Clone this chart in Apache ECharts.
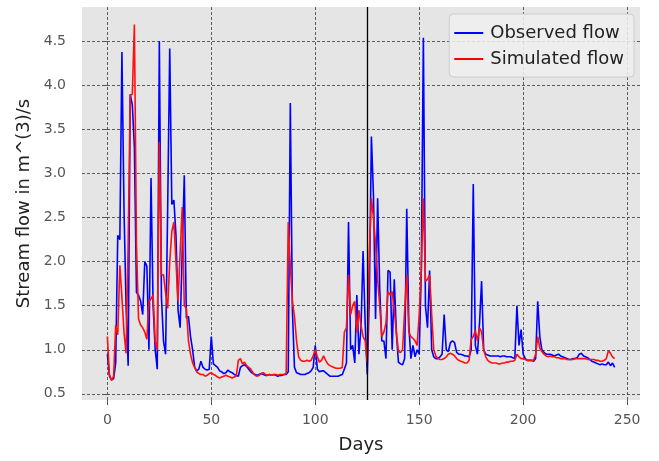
<!DOCTYPE html>
<html>
<head>
<meta charset="utf-8">
<script src="https://cdn.jsdelivr.net/npm/echarts@6/dist/echarts.min.js"></script>
<style>
	html, body { margin: 0; padding: 0; background: #fff; }
	#flow_chart { width: 659px; height: 461px; }
</style>
</head>
<body>
<div id="flow_chart"></div>
<script>
// observed / simulated stream flow, one value per day (day = index)
const observed = [
	0.95, 0.70, 0.66, 0.67, 0.85, 2.30, 2.25, 4.38, 2.60, 1.50,
	0.82, 3.90, 3.78, 3.30, 1.65, 1.62, 1.55, 1.40, 2.00, 1.95,
	1.00, 2.95, 1.50, 1.00, 0.78, 4.50, 1.60, 1.10, 0.95, 2.60,
	4.42, 2.65, 2.70, 2.30, 1.45, 1.25, 2.10, 2.98, 1.36, 1.38,
	1.15, 1.00, 0.80, 0.76, 0.78, 0.87, 0.80, 0.78, 0.77, 0.78,
	1.15, 0.84, 0.82, 0.80, 0.76, 0.75, 0.73, 0.74, 0.77, 0.75,
	0.74, 0.72, 0.71, 0.70, 0.80, 0.82, 0.83, 0.81, 0.78, 0.75,
	0.73, 0.72, 0.71, 0.72, 0.73, 0.72, 0.71, 0.71, 0.72, 0.71,
	0.72, 0.71, 0.70, 0.71, 0.71, 0.72, 0.72, 0.75, 3.80, 1.45,
	0.80, 0.74, 0.73, 0.72, 0.72, 0.72, 0.73, 0.74, 0.76, 0.80,
	1.05, 0.78, 0.75, 0.76, 0.76, 0.74, 0.72, 0.70, 0.70, 0.70,
	0.70, 0.70, 0.71, 0.72, 0.78, 0.85, 2.45, 1.00, 1.05, 0.85,
	1.62, 0.95, 1.25, 2.12, 1.30, 0.72, 1.60, 3.42, 2.75, 1.35,
	2.72, 1.70, 1.10, 1.10, 0.90, 1.90, 1.88, 1.00, 1.80, 1.20,
	0.86, 0.84, 0.83, 0.90, 2.60, 1.28, 0.90, 1.05, 0.92, 1.00,
	0.95, 1.90, 4.54, 1.50, 1.25, 1.90, 1.00, 0.92, 0.90, 0.90,
	0.92, 0.95, 1.40, 1.00, 0.98, 1.08, 1.10, 1.08, 0.97, 0.95,
	0.95, 0.94, 0.93, 0.93, 0.92, 1.00, 2.88, 1.05, 0.95, 1.30,
	1.78, 1.00, 0.95, 0.94, 0.93, 0.93, 0.93, 0.93, 0.93, 0.92,
	0.93, 0.93, 0.92, 0.92, 0.92, 0.91, 0.90, 1.50, 1.05, 1.23,
	0.95, 0.90, 0.88, 0.88, 0.88, 0.87, 0.90, 1.55, 1.15, 1.00,
	0.97, 0.95, 0.95, 0.95, 0.94, 0.93, 0.94, 0.95, 0.93, 0.92,
	0.91, 0.90, 0.89, 0.89, 0.90, 0.90, 0.91, 0.95, 0.96, 0.93,
	0.92, 0.91, 0.89, 0.87, 0.86, 0.85, 0.84, 0.83, 0.84, 0.83,
	0.83, 0.86, 0.82, 0.85, 0.80
];

const simulated = [
	1.15, 0.72, 0.65, 0.70, 1.28, 1.17, 1.96, 1.60, 1.20, 0.96,
	2.20, 3.89, 3.90, 4.69, 2.20, 1.35, 1.28, 1.25, 1.20, 1.12,
	1.55, 1.58, 1.62, 1.10, 1.00, 3.36, 1.85, 1.85, 1.65, 1.47,
	2.00, 2.34, 2.45, 2.00, 1.55, 2.10, 2.62, 1.50, 1.47, 1.10,
	0.95, 0.85, 0.80, 0.75, 0.73, 0.72, 0.72, 0.70, 0.71, 0.73,
	0.74, 0.72, 0.71, 0.69, 0.68, 0.69, 0.70, 0.71, 0.70, 0.69,
	0.68, 0.69, 0.70, 0.88, 0.90, 0.84, 0.86, 0.82, 0.80, 0.78,
	0.74, 0.71, 0.70, 0.71, 0.73, 0.74, 0.72, 0.71, 0.72, 0.71,
	0.72, 0.72, 0.71, 0.72, 0.72, 0.72, 0.73, 2.45, 1.95, 1.55,
	1.38, 1.10, 0.92, 0.88, 0.87, 0.87, 0.88, 0.87, 0.88, 0.93,
	1.00, 0.92, 0.86, 0.88, 0.93, 0.88, 0.84, 0.82, 0.81, 0.80,
	0.79, 0.79, 0.79, 0.80, 1.20, 1.25, 1.85, 1.40, 1.50, 1.55,
	1.20, 1.45, 1.28, 1.15, 1.10, 0.85, 2.10, 2.72, 2.50, 2.20,
	1.80, 1.50, 1.15, 1.20, 1.30, 1.66, 1.62, 1.66, 1.45, 1.20,
	0.98, 0.97, 1.00, 1.45, 1.85, 1.20, 1.15, 1.13, 1.10, 1.05,
	1.40, 1.90, 2.72, 1.78, 1.80, 1.85, 1.40, 1.00, 0.93, 0.90,
	0.89, 0.89, 0.90, 0.92, 0.95, 0.96, 0.95, 0.93, 0.90, 0.88,
	0.87, 0.86, 0.85, 0.85, 0.88, 1.12, 1.15, 1.22, 1.10, 1.25,
	1.20, 1.00, 0.92, 0.88, 0.86, 0.85, 0.85, 0.85, 0.84, 0.84,
	0.85, 0.85, 0.86, 0.86, 0.87, 0.87, 0.88, 0.95, 0.92, 0.90,
	0.90, 0.89, 0.88, 0.88, 0.88, 0.88, 0.95, 1.15, 1.02, 0.98,
	0.95, 0.93, 0.92, 0.93, 0.92, 0.92, 0.91, 0.91, 0.90, 0.90,
	0.90, 0.89, 0.89, 0.89, 0.89, 0.90, 0.90, 0.90, 0.90, 0.90,
	0.90, 0.89, 0.89, 0.89, 0.89, 0.88, 0.88, 0.87, 0.87, 0.88,
	0.90, 0.99, 0.96, 0.92, 0.90
];

const xTicks = [0, 50, 100, 150, 200, 250];
const yTicks = [0.5, 1.0, 1.5, 2.0, 2.5, 3.0, 3.5, 4.0, 4.5];
const splitDay = 125;

const chartDom = document.getElementById('flow_chart');
const myChart = echarts.init(chartDom);

const font = 'DejaVu Sans';
const tickColor = '#555555';
const gridLine = {color: '#3a3a3a', type: [3, 2], width: 0.8};

let option = {
	animation: false,
	textStyle: {fontFamily: font},
	grid: {
		left: 82, right: 19, top: 7, bottom: 61,
		show: true, backgroundColor: '#e5e5e5', borderWidth: 0,
		outerBoundsMode: 'none'
	},
	legend: {
		orient: 'vertical',
		right: 25,
		top: 14,
		icon: 'rect',
		itemWidth: 29,
		itemHeight: 2,
		itemGap: 8,
		padding: [10, 10, 9, 5],
		backgroundColor: 'rgba(240,240,240,0.85)',
		borderColor: '#cccccc',
		borderWidth: 1,
		borderRadius: 4,
		textStyle: {fontFamily: font, fontSize: 18, color: '#222', padding: [0, 0, 0, 2]},
		data: ['Observed flow', 'Simulated flow']
	},
	xAxis: {
		type: 'value',
		min: -12.2,
		max: 256.2,
		name: 'Days',
		nameLocation: 'middle',
		nameGap: 36,
		nameTextStyle: {fontFamily: font, fontSize: 18, color: '#222'},
		axisLine: {show: false},
		axisTick: {show: true, customValues: xTicks, length: 5, lineStyle: {color: tickColor}},
		axisLabel: {customValues: xTicks, color: tickColor, fontSize: 14, margin: 13},
		splitLine: {show: true, lineStyle: gridLine}
	},
	yAxis: {
		type: 'value',
		min: 0.43,
		max: 4.89,
		name: 'Stream flow in m^(3)/s',
		nameLocation: 'middle',
		nameGap: 48,
		nameTextStyle: {fontFamily: font, fontSize: 18, color: '#222'},
		axisLine: {show: false},
		axisTick: {show: true, customValues: yTicks, length: 5, lineStyle: {color: tickColor}},
		axisLabel: {
			customValues: yTicks, color: tickColor, fontSize: 14, margin: 16, align: 'right',
			formatter: v => v.toFixed(1)
		},
		splitLine: {show: true, lineStyle: gridLine}
	},
	series: [
		{
			name: 'Observed flow',
			type: 'line',
			symbol: 'none',
			color: '#0000ff',
			lineStyle: {width: 1.6, color: '#0000ff'},
			data: observed.map((v, i) => [i, v]),
			z: 2
		},
		{
			name: 'Simulated flow',
			type: 'line',
			symbol: 'none',
			color: '#ff0000',
			lineStyle: {width: 1.6, color: '#ff1010'},
			data: simulated.map((v, i) => [i, v]),
			z: 3,
			markLine: {
				silent: true,
				symbol: 'none',
				label: {show: false},
				lineStyle: {color: '#000', type: 'solid', width: 1.3},
				data: [{xAxis: splitDay}]
			}
		}
	]
};

option && myChart.setOption(option);
</script>
</body>
</html>
